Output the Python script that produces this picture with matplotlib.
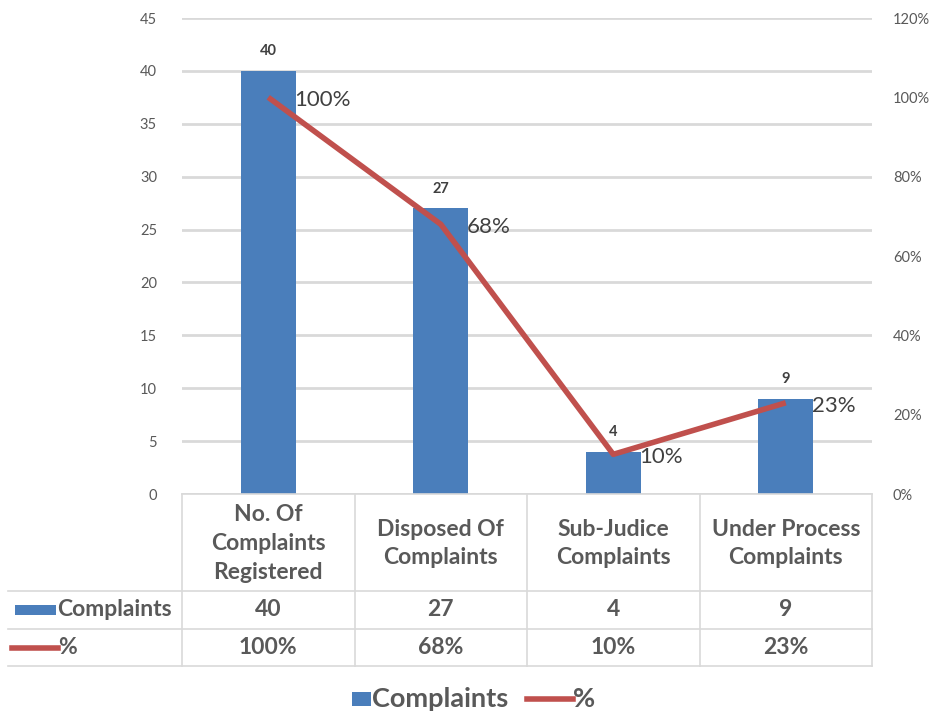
import matplotlib
matplotlib.use("Agg")
import matplotlib.pyplot as plt
from matplotlib.lines import Line2D
from matplotlib.patches import Rectangle

plt.rcParams['font.family'] = ['Lato', 'DejaVu Sans']

categories = ["No. Of\nComplaints\nRegistered", "Disposed Of\nComplaints",
              "Sub-Judice\nComplaints", "Under Process\nComplaints"]
complaints = [40, 27, 4, 9]
percent = [100, 68, 10, 23]
left_ticks = [0, 5, 10, 15, 20, 25, 30, 35, 40, 45]
right_ticks = [0, 20, 40, 60, 80, 100, 120]

BAR = "#4A7EBB"
RED = "#C0504D"
GRID = "#D9D9D9"
TXT = "#595959"

W, H = 933, 718
fig = plt.figure(figsize=(W / 100, H / 100), dpi=100)


def fx(px):
    return px / W


def fy(py):
    return 1 - py / H


# plot area in pixel terms
x0, x1, ytop, ybot = 182, 872, 18, 494
ax = fig.add_axes([fx(x0), fy(ybot), fx(x1) - fx(x0), fy(ytop) - fy(ybot)])
ax2 = ax.twinx()

n = len(categories)
xs = list(range(n))
ax.bar(xs, complaints, width=0.32, color=BAR, zorder=3)
ax.set_xlim(-0.5, n - 0.5)
ax.set_ylim(0, 45)
ax.set_yticks(left_ticks)
ax.yaxis.grid(True, color=GRID, linewidth=2)
ax.set_axisbelow(True)
ax.set_xticks([])
for s in ax.spines.values():
    s.set_visible(False)
ax.tick_params(axis='y', length=0, pad=18, labelsize=10.5, labelcolor=TXT)

for x, v in zip(xs, complaints):
    ax.annotate(f"{v}", (x, v), xytext=(0, 14), textcoords="offset points",
                ha="center", va="center", fontsize=10.5, fontweight="bold",
                color="#404040")

ax2.plot(xs, percent, color=RED, linewidth=4, solid_capstyle="butt", zorder=4)
ax2.set_ylim(0, 120)
ax2.set_yticks(right_ticks)
ax2.set_yticklabels([f"{t}%" for t in right_ticks])
ax2.tick_params(axis='y', length=0, pad=15, labelsize=10.5, labelcolor=TXT)
for s in ax2.spines.values():
    s.set_visible(False)
for x, v in zip(xs, percent):
    ax2.annotate(f"{v}%", (x, v), xytext=(19, -2), textcoords="offset points",
                 ha="left", va="center", fontsize=16, color="#404040")

# data table beneath the plot
col_edges = [x0 + i * (x1 - x0) / n for i in range(n + 1)]
row_lines = [591, 629, 666]
tl = 8
lw = 1.2
fig.add_artist(Line2D([fx(x0), fx(x1)], [fy(ybot), fy(ybot)], color=GRID, lw=lw))
for ry in row_lines:
    fig.add_artist(Line2D([fx(tl), fx(x1)], [fy(ry), fy(ry)], color=GRID, lw=lw))
for cx in col_edges:
    fig.add_artist(Line2D([fx(cx), fx(cx)], [fy(ybot), fy(row_lines[-1])], color=GRID, lw=lw))

FS = 16.5
for i, cat in enumerate(categories):
    cx = (col_edges[i] + col_edges[i + 1]) / 2
    fig.text(fx(cx), fy((ybot + row_lines[0]) / 2 + 1), cat, ha="center", va="center",
             fontsize=FS, fontweight="bold", color=TXT, linespacing=1.45)
    fig.text(fx(cx), fy((row_lines[0] + row_lines[1]) / 2), f"{complaints[i]}",
             ha="center", va="center", fontsize=FS, fontweight="bold", color=TXT)
    fig.text(fx(cx), fy((row_lines[1] + row_lines[2]) / 2), f"{percent[i]}%",
             ha="center", va="center", fontsize=FS, fontweight="bold", color=TXT)

# row headers with series keys
r1 = (row_lines[0] + row_lines[1]) / 2
r2 = (row_lines[1] + row_lines[2]) / 2
fig.add_artist(Rectangle((fx(15), fy(r1 + 5)), fx(56) - fx(15), fy(r1 - 5) - fy(r1 + 5),
                         color=BAR, lw=0))
fig.text(fx(57), fy(r1), "Complaints", ha="left", va="center", fontsize=FS,
         fontweight="bold", color=TXT)
fig.add_artist(Line2D([fx(12), fx(58)], [fy(r2), fy(r2)], color=RED, lw=4))
fig.text(fx(58), fy(r2), "%", ha="left", va="center", fontsize=FS,
         fontweight="bold", color=TXT)

# legend at the bottom
ly = 699
fig.add_artist(Rectangle((fx(352), fy(ly + 7)), fx(371) - fx(352), fy(ly - 7) - fy(ly + 7),
                         color=BAR, lw=0))
fig.text(fx(372), fy(ly), "Complaints", ha="left", va="center", fontsize=19.5,
         fontweight="bold", color=TXT)
fig.add_artist(Line2D([fx(527), fx(573)], [fy(ly), fy(ly)], color=RED, lw=4))
fig.text(fx(573), fy(ly), "%", ha="left", va="center", fontsize=19.5,
         fontweight="bold", color=TXT)

fig.savefig("out.png", dpi=100, facecolor="white")
